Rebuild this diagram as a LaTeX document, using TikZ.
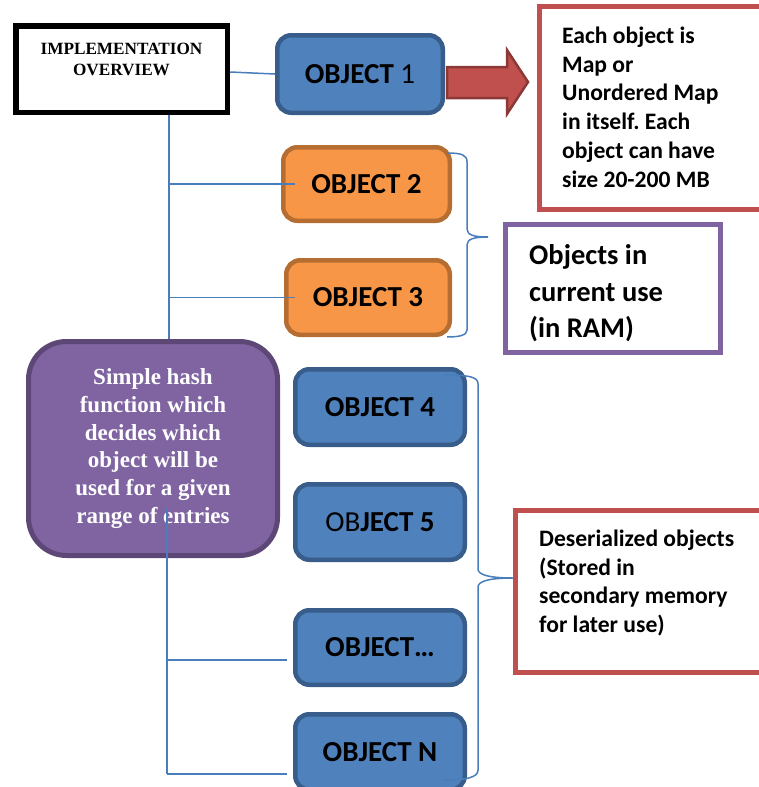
\documentclass[tikz,border=0pt]{standalone}
\usepackage{fontspec}
\setmainfont{Carlito}
\newfontfamily\timesf{Liberation Serif}
\definecolor{bfill}{HTML}{4F81BD}
\definecolor{bdraw}{HTML}{385D8A}
\definecolor{ofill}{HTML}{F79646}
\definecolor{odraw}{HTML}{B66D31}
\definecolor{pfill}{HTML}{8064A2}
\definecolor{pdraw}{HTML}{5C4776}
\definecolor{redc}{HTML}{C0504D}
\definecolor{redd}{HTML}{8C3836}
\definecolor{connc}{HTML}{4A7EBB}
\frenchspacing
\begin{document}
\begin{tikzpicture}[x=1pt,y=-1pt,
  conn/.style={draw=connc, line width=1.5pt},
  objbox/.style={rounded corners=14pt, line width=4.5pt, minimum width=169.5pt,
    minimum height=75.5pt, inner sep=0pt, font=\fontsize{29}{34}\selectfont\bfseries},
  blueobj/.style={objbox, fill=bfill, draw=bdraw},
  orangeobj/.style={objbox, fill=ofill, draw=odraw},
  framebox/.style={rectangle, line width=5pt, inner sep=0pt, fill=white},
  notetext/.style={anchor=north west, inner sep=0pt, align=left,
    font=\fontsize{23.6}{28.8}\selectfont\bfseries},
]
\useasboundingbox (0,0) rectangle (758,787);

% Implementation overview
\node[framebox, draw=black, line width=5.5pt, minimum width=211.5pt, minimum height=86.5pt] (impl) at (121.5,69) {};
\node[anchor=north, inner sep=0pt, align=center, font=\timesf\fontsize{17.2}{21}\selectfont\bfseries] (implt) at (121.5,43) {IMPLEMENTATION\\OVERVIEW};

% Objects
\node[blueobj, minimum width=165.5pt, minimum height=77.5pt] (o1) at (360,74) {OBJECT \mdseries 1};
\node[orangeobj, minimum width=166.5pt, minimum height=73.5pt] (o2) at (366.5,184) {OBJECT 2};
\node[orangeobj, minimum width=163.5pt, minimum height=74.5pt] (o3) at (368,297.5) {OBJECT 3};
\node[blueobj] (o4) at (380,407) {OBJECT 4};
\node[blueobj] (o5) at (380,522) {{\mdseries OB}JECT 5};
\node[blueobj, minimum height=74.5pt] (od) at (380,647.5) {OBJECT\ldots};
\node[blueobj] (on) at (380,752) {OBJECT N};

% Hash function box
\node[rounded corners=38pt, line width=5pt, fill=pfill, draw=pdraw, minimum width=249pt, minimum height=214pt,
  inner sep=0pt, align=center, text=white, font=\timesf\fontsize{23}{27.8}\selectfont\bfseries] (hash) at (153,448.5)
  {Simple hash\\function which\\decides which\\object will be\\used for a given\\range of entries};

% Block arrow
\draw[fill=redc, draw=redd, line width=2.5pt, line join=miter]
  (447,67) -- (507,67) -- (507,50) -- (528,82) -- (507,114) -- (507,98) -- (447,98) -- cycle;

% Info boxes
\node[framebox, draw=redc, minimum width=230.5pt, minimum height=203pt] (info) at (654.75,108) {};
\node[notetext] (infot) at (562,26.5) {Each object is\\Map or\\Unordered Map\\in itself. Each\\object can have\\size 20-200 MB};

\node[framebox, draw=pfill, minimum width=215pt, minimum height=128pt] (ram) at (613,288.5) {};
\node[notetext, font=\fontsize{28.5}{36.5}\selectfont\bfseries] (ramt) at (529,244.5) {Objects in\\current use\\(in RAM)};

\node[framebox, draw=redc, minimum width=254.5pt, minimum height=162pt] (deser) at (642.75,591.5) {};
\node[notetext] (desert) at (539,529.5) {Deserialized objects\\(Stored in\\secondary memory\\for later use)};

% Connectors
\coordinate (ta) at (169,0);
\coordinate (tb) at (167,0);
\draw[conn] ([yshift=-3pt]impl.east) -- (o1.west);
\draw[conn] (ta |- impl.south) -- (ta |- hash.north);
\draw[conn] (ta |- o2.west) -- ([xshift=14pt]o2.west);
\draw[conn] (ta |- o3.west) -- ([xshift=11pt]o3.west);
\coordinate (hb) at (167,508);
\draw[conn] (hb) -- (tb |- 0,774);
\draw[conn] (tb |- 0,660) -- ([xshift=-6pt]od.west |- 0,660);
\draw[conn] (tb |- 0,774) -- ([xshift=-6pt]on.west |- 0,774);

% Braces
\draw[conn] (447,153) .. controls (462,153) and (467,155) .. (467,162) -- (467,229)
  .. controls (467,235) and (474,237) .. (488,237)
  .. controls (474,237) and (467,239) .. (467,245) -- (467,330)
  .. controls (467,335) and (460,337) .. (447,337);
\draw[conn] (443,375) .. controls (470,375) and (478,377) .. (478,384) -- (478,569)
  .. controls (478,575) and (490,578) .. (deser.west |- 0,578)
  .. controls (490,578) and (478,581) .. (478,587) -- (478,770)
  .. controls (478,777) and (468,780) .. (443,780);
\end{tikzpicture}
\end{document}
